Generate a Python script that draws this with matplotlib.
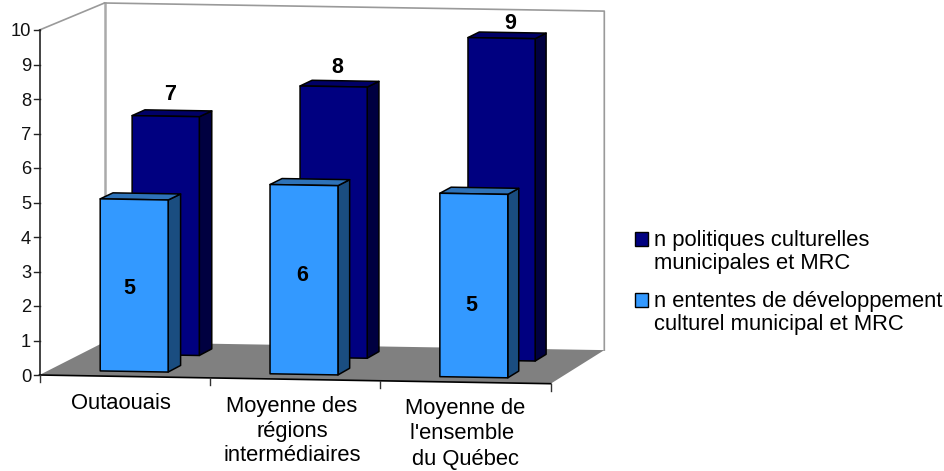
import matplotlib
matplotlib.use('Agg')
import matplotlib.pyplot as plt
from matplotlib.patches import Polygon, Rectangle

plt.rcParams['font.family'] = ['Liberation Sans', 'DejaVu Sans']

# valeurs
categories = ['Outaouais', 'Moyenne des\nrégions\nintermédiaires', "Moyenne de\nl'ensemble \ndu Québec"]
politiques = [7.0, 7.95, 9.45]
ententes = [5.0, 5.5, 5.33]
y_ticks = list(range(0, 11))
legend_labels = ['n politiques culturelles\nmunicipales et MRC',
                 'n ententes de développement\nculturel municipal et MRC']

# couleurs: face, dessus, cote
dark_c = ['#000080', '#000066', '#000040']
light_c = ['#3399FF', '#2E72B8', '#1A4D80']
floor_c = '#808080'
wall_c = '#9A9A9A'


def proj(u, v, d):
    # u: categorie (0-3), v: valeur (0-10), d: profondeur (0-1) -> pixels
    x_front = 39.5 + 170.4 * u
    x_back = 104.5 + 166.6 * u
    y_front = 375 + 2.9 * u
    y_back = 342 + 2.7 * u
    scale = 34.5 + (33.9 - 34.5) * d
    return (x_front + (x_back - x_front) * d,
            y_front + (y_back - y_front) * d - v * scale)


def draw_bar(ax, u, value, d0, d1, colors, z):
    u0, u1 = u + 0.3, u + 0.7
    top = [proj(u0, value, d0), proj(u1, value, d0), proj(u1, value, d1), proj(u0, value, d1)]
    side = [proj(u1, 0, d0), proj(u1, 0, d1), proj(u1, value, d1), proj(u1, value, d0)]
    front = [proj(u0, 0, d0), proj(u1, 0, d0), proj(u1, value, d0), proj(u0, value, d0)]
    for pts, c in ((side, colors[2]), (top, colors[1]), (front, colors[0])):
        ax.add_patch(Polygon(pts, closed=True, facecolor=c, edgecolor='black',
                             linewidth=1.1, joinstyle='round', zorder=z))


fig = plt.figure(figsize=(9.45, 4.71), dpi=100)
ax = fig.add_axes([0, 0, 1, 1])
ax.set_xlim(0, 945)
ax.set_ylim(471, 0)
ax.axis('off')

# sol et parois
floor = [proj(0, 0, 0), proj(3, 0, 0), proj(3, 0, 1), proj(0, 0, 1)]
ax.add_patch(Polygon(floor, closed=True, facecolor=floor_c, edgecolor='none', zorder=1))
ax.plot(*zip(proj(0, 0, 1), proj(0, 10, 1)), color='#AAAAAA', lw=1.8, zorder=0.5)
ax.plot(*zip(proj(0, 10, 1), proj(3, 10, 1), proj(3, 0, 1)), color=wall_c, lw=1.2, zorder=0.5)
ax.plot(*zip(proj(0, 10, 0), proj(0, 10, 1)), color=wall_c, lw=1.2, zorder=0.5)

# axes
ax.plot(*zip(proj(0, 0, 0), proj(0, 10, 0)), color='#222222', lw=1.2, zorder=2)
ax.plot(*zip(proj(0, 0, 0), proj(3, 0, 0)), color='black', lw=1.2, zorder=2)
for t in y_ticks:
    x, y = proj(0, t, 0)
    ax.plot([x - 6, x], [y, y], color='#222222', lw=1.0, zorder=2)
    ax.text(x - 8.5, y, str(t), ha='right', va='center_baseline', fontsize=13.2, color='#111111')
for i in range(len(categories) + 1):
    x, y = proj(i, 0, 0)
    ax.plot([x, x], [y, y + 7], color='#333333', lw=1.0, zorder=2)

# barres, rangee du fond puis rangee de devant
for i in range(len(categories)):
    draw_bar(ax, i, politiques[i], 0.65, 0.85, dark_c, 3 + i)
for i in range(len(categories)):
    draw_bar(ax, i, ententes[i], 0.15, 0.35, light_c, 7 + i)

# etiquettes de donnees
dark_dy = [-19, -16, -12]
dark_dx = [-2, -2, 3]
for i, v in enumerate(politiques):
    x, y = proj(i + 0.5, v, 0.75)
    ax.text(x + dark_dx[i], y + dark_dy[i], '%.0f' % v, ha='center', va='center', fontsize=15.5,
            fontweight='bold', zorder=12)
light_dy = [3, -4, 20]
light_dx = [-5, -2, -3]
for i, v in enumerate(ententes):
    x, y = proj(i + 0.5, v / 2, 0.15)
    ax.text(x + light_dx[i], y + light_dy[i], '%.0f' % v, ha='center', va='center', fontsize=15.5,
            fontweight='bold', zorder=12)

# categories
cat_x = [121, 292, 465]
cat_y = [393, 396, 398]
cat_spacing = [1.17, 1.22, 1.28]
for x, y, c, s in zip(cat_x, cat_y, categories, cat_spacing):
    ax.text(x, y, c, ha='center', va='top', fontsize=15.8, linespacing=s)

# legende
for y, c, lab in zip([232, 293], [dark_c[0], light_c[0]], legend_labels):
    ax.add_patch(Rectangle((634.5, y), 13.5, 13.5, facecolor=c, edgecolor='black', linewidth=1.0))
    ax.text(654, y - 2, lab, ha='left', va='top', fontsize=15.8, linespacing=1.12)

fig.savefig('out.png', dpi=100)
